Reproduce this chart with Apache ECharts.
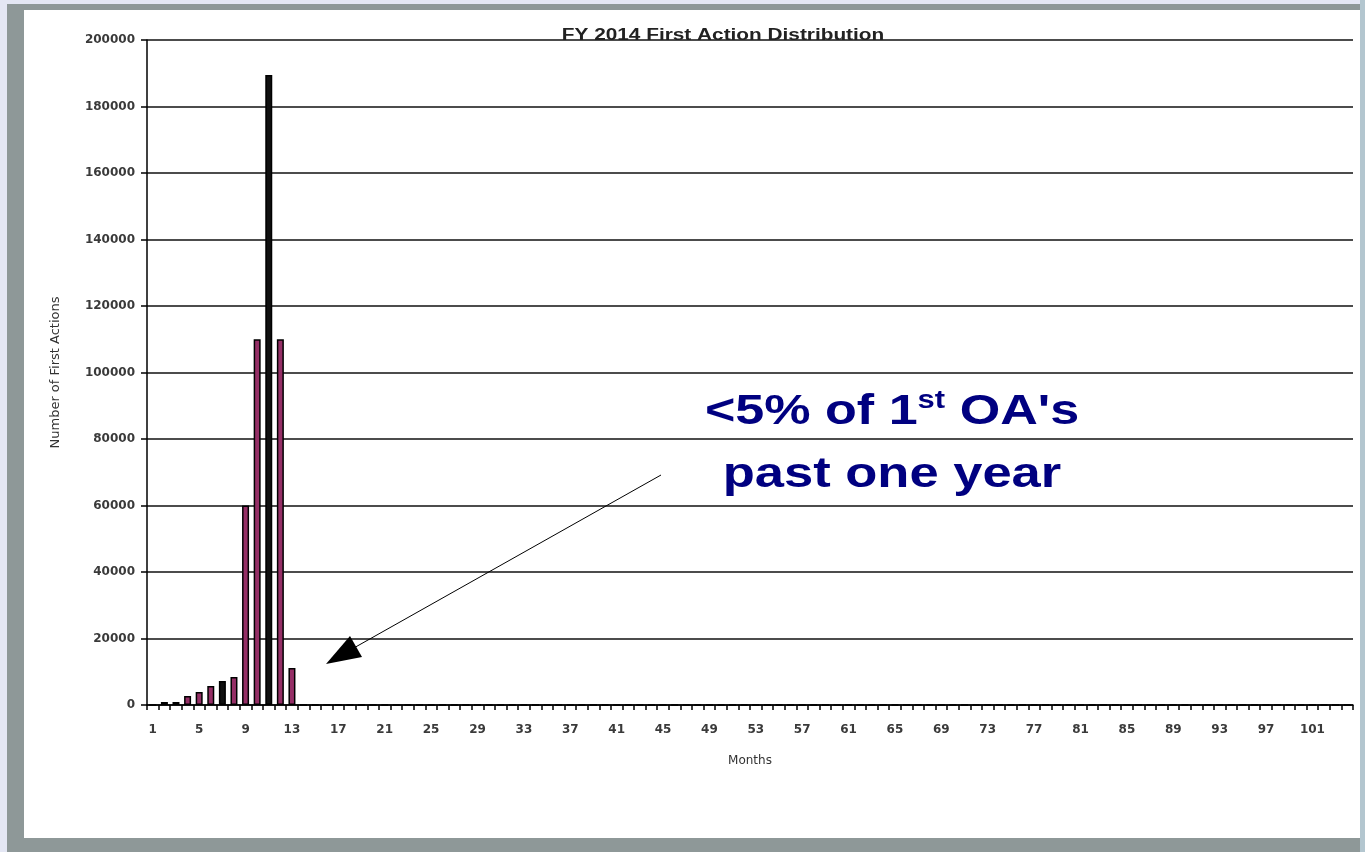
<!DOCTYPE html>
<html>
<head>
<meta charset="utf-8">
<script src="https://cdn.jsdelivr.net/npm/echarts@6/dist/echarts.min.js"></script>
<style>
  html, body { margin: 0; padding: 0; width: 1365px; height: 852px; overflow: hidden; }
  body { background: #8e9898; position: relative; }
  #lav-left { position: absolute; left: 0; top: 0; width: 7px; height: 852px; background: #e4e7f4; }
  #lav-top { position: absolute; left: 0; top: 0; width: 1365px; height: 4px; background: #e4e7f4; }
  #right { position: absolute; left: 1360px; top: 0; width: 5px; height: 852px; background: #b3c6cf; }
  #panel { position: absolute; left: 24px; top: 10px; width: 1336px; height: 828px; background: #ffffff; }
  #chart { position: absolute; left: 0; top: 0; width: 1365px; height: 852px; }
</style>
</head>
<body>
<div id="lav-left"></div>
<div id="lav-top"></div>
<div id="right"></div>
<div id="panel"></div>
<div id="chart"></div>
<script>
// ---- data ----
var months = [];
for (var m = 1; m <= 104; m++) { months.push(String(m)); }

var firstActions = [
  0, 900, 900, 2700, 3900, 5700, 7200, 8400, 60000, 110000,
  189500, 110000, 11100, 0, 0, 0, 0, 0, 0, 0,
  0, 0, 0, 0, 0, 0, 0, 0, 0, 0,
  0, 0, 0, 0, 0, 0, 0, 0, 0, 0,
  0, 0, 0, 0, 0, 0, 0, 0, 0, 0,
  0, 0, 0, 0, 0, 0, 0, 0, 0, 0,
  0, 0, 0, 0, 0, 0, 0, 0, 0, 0,
  0, 0, 0, 0, 0, 0, 0, 0, 0, 0,
  0, 0, 0, 0, 0, 0, 0, 0, 0, 0,
  0, 0, 0, 0, 0, 0, 0, 0, 0, 0,
  0, 0, 0, 0
];
// bars that render solid black in the reference
var blackBars = [7, 11];

var titleText = 'FY 2014 First Action Distribution';
var yAxisName = 'Number of First Actions';
var xAxisName = 'Months';
var noteLine1 = '<5% of 1';
var noteSup = 'st';
var noteLine1b = " OA's";
var noteLine2 = 'past one year';

// ---- chart ----
var chart = echarts.init(document.getElementById('chart'), null, { renderer: 'canvas' });
var barData = firstActions.map(function (v, i) {
  var black = blackBars.indexOf(i + 1) >= 0;
  return { value: v, itemStyle: { color: black ? '#111111' : '#952f66' } };
});
var font = 'Liberation Sans, Arial, sans-serif';
var wide = 'DejaVu Sans, sans-serif';
var navy = '#000080';

chart.setOption({
  backgroundColor: 'transparent',
  animation: false,
  grid: { left: 147, right: 12, top: 40, bottom: 147, containLabel: false },
  xAxis: {
    type: 'category',
    data: months,
    boundaryGap: true,
    name: xAxisName,
    nameLocation: 'middle',
    nameGap: 50,
    nameTextStyle: { fontFamily: wide, fontSize: 12, color: '#333' },
    axisLine: { lineStyle: { color: '#000', width: 1.5 } },
    axisTick: { show: true, interval: 0, length: 5, lineStyle: { color: '#000', width: 1.5 } },
    axisLabel: { interval: 3, margin: 19, fontFamily: wide, fontSize: 12, fontWeight: 'bold', color: '#3a3a3a' },
    splitLine: { show: false }
  },
  yAxis: {
    type: 'value',
    min: 0, max: 200000, interval: 20000,
    name: yAxisName,
    nameLocation: 'middle',
    nameGap: 85,
    nameTextStyle: { fontFamily: wide, fontSize: 13, color: '#333' },
    axisLine: { show: true, lineStyle: { color: '#000', width: 1.5 } },
    axisTick: { show: true, length: 6, lineStyle: { color: '#000', width: 1.5 } },
    axisLabel: {
      margin: 12, fontFamily: wide, fontSize: 12, fontWeight: 'bold', color: '#3a3a3a',
      formatter: function (v) { return String(v); }
    },
    splitLine: { show: true, lineStyle: { color: '#111', width: 1.5 } }
  },
  series: [{
    type: 'bar',
    data: barData,
    barWidth: 7,
    itemStyle: { borderColor: '#000', borderWidth: 1.5 }
  }],
  graphic: [
    {
      type: 'text', x: 723, y: 44, z: 100, scaleX: 1.3,
      style: {
        text: titleText, align: 'center', verticalAlign: 'bottom',
        fontFamily: font, fontSize: 16, fontWeight: 'bold', fill: '#222'
      }
    },
    {
      type: 'text', x: 892, y: 412, z: 100, scaleX: 1.24,
      style: {
        text: '{a|' + noteLine1 + '}{s|' + noteSup + '}{a|' + noteLine1b + '}',
        align: 'center', verticalAlign: 'middle',
        rich: {
          a: { fontFamily: font, fontSize: 42, fontWeight: 'bold', fill: navy, lineHeight: 46 },
          s: { fontFamily: font, fontSize: 25, fontWeight: 'bold', fill: navy, verticalAlign: 'top', lineHeight: 46 }
        }
      }
    },
    {
      type: 'text', x: 892, y: 475, z: 100, scaleX: 1.25,
      style: {
        text: noteLine2, align: 'center', verticalAlign: 'middle',
        fontFamily: font, fontSize: 42, fontWeight: 'bold', fill: navy
      }
    },
    {
      type: 'line', z: 100,
      shape: { x1: 661, y1: 475, x2: 352, y2: 649 },
      style: { stroke: '#000', lineWidth: 1 }
    },
    {
      type: 'polygon', z: 100,
      shape: { points: [[326, 664], [350, 636], [362, 657]] },
      style: { fill: '#000' }
    }
  ]
});
</script>
</body>
</html>
